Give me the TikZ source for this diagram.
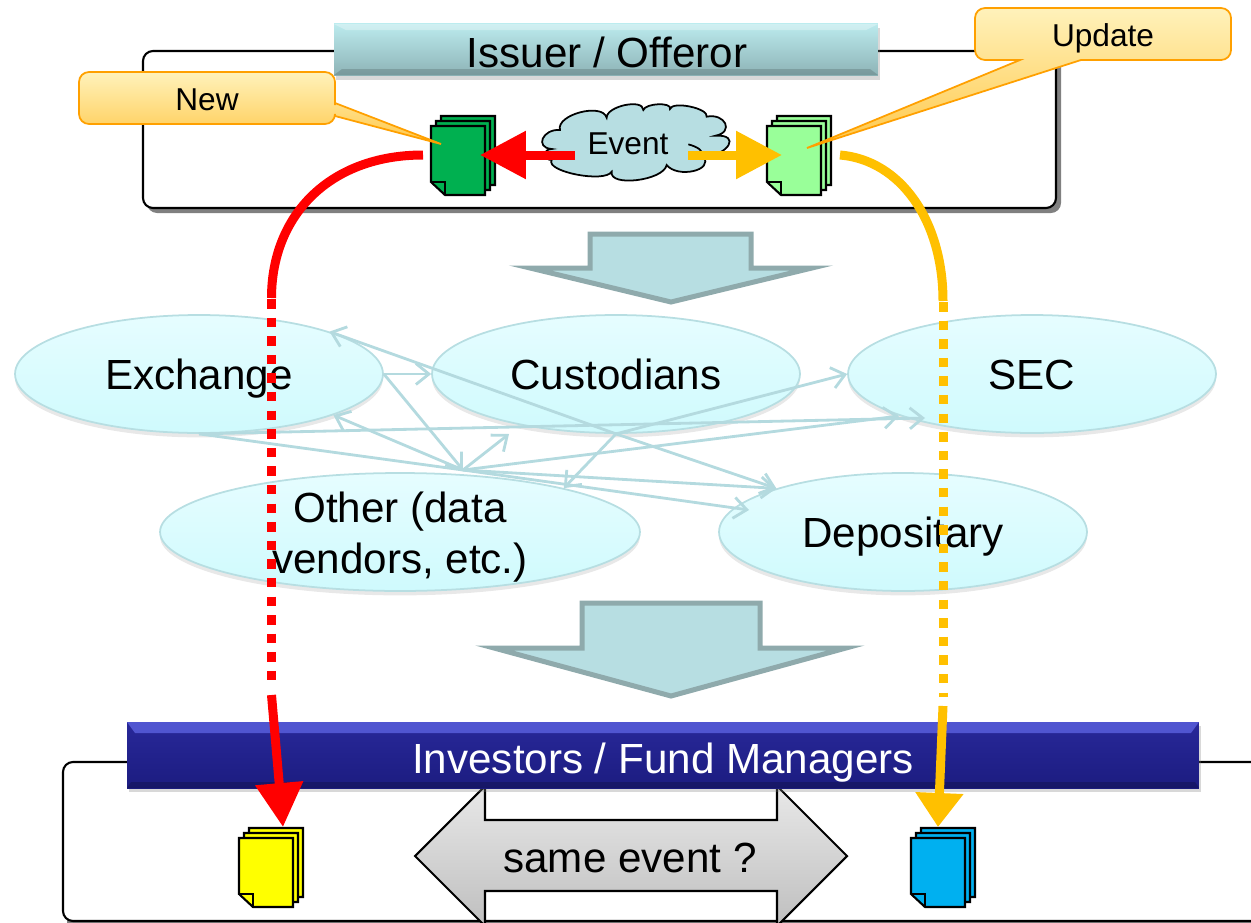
\documentclass[tikz,border=0pt]{standalone}
\usepackage{fontspec}
\setmainfont{Liberation Sans}
\usetikzlibrary{arrows.meta,shapes.geometric,shadows}

\definecolor{cloudfill}{HTML}{B7DEE2}
\definecolor{arrowfill}{HTML}{B7DEE2}
\definecolor{arrowedge}{HTML}{8FAAAC}
\definecolor{linkline}{HTML}{B4DADF}
\definecolor{titletop}{HTML}{BCEBEE}
\definecolor{titlebot}{HTML}{8DB3B6}
\definecolor{ovaltop}{HTML}{E6FDFF}
\definecolor{ovalbot}{HTML}{CFFAFD}
\definecolor{talktop}{HTML}{FFF2BB}
\definecolor{talkbot}{HTML}{FFC84A}
\definecolor{talkedge}{HTML}{FFA000}
\definecolor{bartop}{HTML}{282899}
\definecolor{barbot}{HTML}{1C1C80}
\definecolor{barstrip}{HTML}{5055D0}
\definecolor{greytop}{HTML}{E8E8E8}
\definecolor{greybot}{HTML}{BFBFBF}
\definecolor{redline}{HTML}{FF0000}
\definecolor{orangeline}{HTML}{FFC000}
\definecolor{docgreen}{HTML}{00B050}
\definecolor{docmint}{HTML}{99FF99}
\definecolor{docyellow}{HTML}{FFFF00}
\definecolor{docblue}{HTML}{00B0F0}

\tikzset{
  bigfont/.style={font=\fontsize{24}{29.5}\selectfont},
  bigline/.style={bigfont, inner sep=0pt, text height=17.2pt, text depth=0pt},
  smallline/.style={font=\fontsize{18}{22}\selectfont, inner sep=0pt, text height=13pt, text depth=0pt},
  panelbox/.style={draw=black, line width=1.2pt, fill=white, rounded corners=0.2cm},
  titlebar/.style={rectangle, minimum width=10.88cm, minimum height=1.04cm, top color=titletop, bottom color=titlebot,
    drop shadow={opacity=0.3, shadow xshift=1pt, shadow yshift=-2.5pt}},
  oval/.style={ellipse, draw=arrowfill, line width=1pt, top color=ovaltop, bottom color=ovalbot, minimum width=7.36cm, minimum height=2.36cm,
    drop shadow={opacity=0.18, shadow xshift=0pt, shadow yshift=-2.5pt}},
  talkbox/.style={draw=talkedge, line width=1pt, top color=talktop, bottom color=talkbot},
  bigarrow/.style={draw=arrowedge, fill=arrowfill, line width=0.1cm},
  link/.style={draw=linkline, line width=1.6pt, -{Straight Barb[length=0.26cm,width=0.42cm]}},
  linkplain/.style={draw=linkline, line width=1.6pt},
  flow/.style={line width=0.18cm},
  flowhead/.style={line width=0.18cm, -{Triangle[length=#1,width=0.92cm]}},
  flowdash/.style={line width=0.18cm, dash pattern=on 0.19cm off 0.182cm},
}

\newcommand{\docstack}[4]{
  \coordinate (#1) at (#2+27,#3+35);
  \foreach \off in {10,5,0}{
    \begin{scope}[shift={(#2+\off,#3-\off)}]
      \draw[line width=1.2pt, fill=#4, line join=miter] (0,0) -- (54,0) -- (54,69) -- (14,69) -- (0,56) -- cycle;
      \draw[line width=1.2pt] (0,56) -- (14,56) -- (14,69);
    \end{scope}
  }
}

\begin{document}
\begin{tikzpicture}[x=0.02cm, y=-0.02cm]
  \useasboundingbox (0,0) rectangle (1251,923);

  % top panel
  \fill[gray] (147,55) [rounded corners=0.2cm] rectangle (1061,213);
  \draw[panelbox] (143,51) rectangle (1056,208);
  \node[titlebar] (issuer) at (606,49.5) {};
  \fill[white, opacity=0.3] (334,24) -- (878,24) -- (866,30) -- (346,30) -- cycle;
  \fill[black, opacity=0.15] (334,75) -- (878,75) -- (870,69) -- (342,69) -- cycle;
  \node[bigline] (issuerlabel) at (607,52) {Issuer / Offeror};

  \docstack{docnew}{431}{126}{docgreen}
  \docstack{docupdate}{767}{126}{docmint}

  \begin{scope}[shift={(530,95)}, xscale=1/3, yscale=1/3]
    \draw[line width=1pt, fill=cloudfill] (90,105) .. controls (77,59) and (217,22) .. (230,68)
      .. controls (230,33) and (340,10) .. (340,45)
      .. controls (347,24) and (427,21) .. (420,42)
      .. controls (427,17) and (537,40) .. (530,65)
      .. controls (586,54) and (613,111) .. (557,122)
      .. controls (633,118) and (596,181) .. (520,185)
      .. controls (553,226) and (443,251) .. (410,210)
      .. controls (401,257) and (236,277) .. (245,230)
      .. controls (225,265) and (45,230) .. (65,195)
      .. controls (38,195) and (38,162) .. (65,162)
      .. controls (13,158) and (38,101) .. (90,105) -- cycle;
    \draw[line width=1pt] (475,148) .. controls (500,155) and (520,165) .. (520,185);
  \end{scope}
  \node[smallline] (event) at (628,143) {Event};

  % callouts
  \draw[talkbox, rounded corners=0.2cm] (207,72) -- (335,72) -- (335,95) [sharp corners] -- (335,103) -- (441,144) -- (335,116) [rounded corners=0.2cm] -- (335,124) -- (79,124) -- (79,72) -- cycle;
  \node[smallline] (newlabel) at (207,99) {New};
  \draw[talkbox, rounded corners=0.2cm] (1103,8) -- (975,8) -- (975,60) -- (1010,60) [sharp corners] -- (1020,60) -- (807,148) -- (1081,60) [rounded corners=0.2cm] -- (1231,60) -- (1231,8) -- cycle;
  \node[smallline] (updatelabel) at (1103,35) {Update};

  % arrows out of the event
  \coordinate (redstart) at (575,155);
  \coordinate (redend) at (480,155);
  \coordinate (orangestart) at (688,155);
  \coordinate (orangeend) at (782,155);
  \draw[flowhead=0.92cm, redline] (redstart) to (redend);
  \draw[flowhead=0.92cm, orangeline] (orangestart) to (orangeend);

  % big arrows
  \draw[bigarrow] (590,234) -- (751,234) -- (751,268) -- (812,268) -- (671,302) -- (530,268) -- (590,268) -- cycle;
  \draw[bigarrow] (582,603) -- (760,603) -- (760,648) -- (846,648) -- (671,696) -- (494,648) -- (582,648) -- cycle;

  % market ovals
  \node[oval, bigline] (exchange) at (199,374) {Exchange};
  \node[oval, bigline] (custodians) at (616,374) {Custodians};
  \node[oval, bigline] (sec) at (1032,374) {SEC};
  \node[oval, minimum width=9.6cm] (other) at (400,532) {};
  \node[bigfont, align=center, inner sep=0pt] (otherlabel) at (400,537) {Other (data\\vendors, etc.)};
  \node[oval, bigline] (depositary) at (903,532) {Depositary};

  \coordinate (otherhub) at (463,470);
  \coordinate (custlow) at (509,434);
  \coordinate (sechigh) at (899,416);
  \coordinate (seclow) at (925,418);
  \coordinate (deplow) at (749,510);

  \draw[link] (exchange.east) to (custodians.west);
  \draw[link] (exchange.east) to (otherhub);
  \draw[linkplain] (exchange.south) to (otherhub);
  \draw[link] (exchange.south) to (seclow);
  \draw[link] (otherhub) to (exchange.-17);
  \draw[link] (otherhub) to (custlow);
  \draw[link] (otherhub) to (sechigh);
  \draw[link] (otherhub) to (depositary.161);
  \draw[link] (otherhub) to (deplow);
  \draw[link] (custodians.south) to (exchange.18);
  \draw[link] (custodians.south) to (sec.west);
  \draw[link] (custodians.south) to (other.15);
  \draw[link] (custodians.south) to (depositary.161);

  % bottom panel
  \fill[gray] (67,766) rectangle (1300,926);
  \draw[panelbox] (63,762) rectangle (1300,921);
  \draw[line width=1.2pt, top color=greytop, bottom color=greybot] (415,856) -- (485,786) -- (485,820) -- (777,820) -- (777,786) -- (847,856) -- (777,926) -- (777,891) -- (485,891) -- (485,926) -- cycle;
  \node[bigfont, inner sep=0pt] (same) at (630,858) {same event ?};
  \node[titlebar, minimum width=21.44cm, minimum height=1.32cm, top color=bartop, bottom color=barbot] (investors) at (663,755) {};
  \fill[barstrip] (127,722) -- (1199,722) -- (1191,733) -- (135,733) -- cycle;
  \fill[black, opacity=0.2] (127,788) -- (1199,788) -- (1195,782) -- (131,782) -- cycle;
  \node[bigline, text=white] (investorlabel) at (663,758) {Investors / Fund Managers};

  \docstack{docleft}{239}{838}{docyellow}
  \docstack{docright}{911}{838}{docblue}

  % long flows
  \coordinate (redcurve) at (423,155);
  \coordinate (redbend) at (271.5,298);
  \coordinate (reddash) at (271.5,299);
  \coordinate (reddashend) at (271.5,683);
  \coordinate (redlow) at (271.5,695);
  \coordinate (redtip) at (283,827);
  \draw[flow, redline] (redcurve) .. controls (330,155) and (271.5,215) .. (redbend);
  \draw[flowdash, redline] (reddash) to (reddashend);
  \draw[flowhead=0.88cm, redline] (redlow) to (redtip);

  \coordinate (orangecurve) at (840,155);
  \coordinate (orangebend) at (943,301);
  \coordinate (orangedash) at (943,302);
  \coordinate (orangedashend) at (943,697);
  \coordinate (orangelow) at (943,706);
  \coordinate (orangetip) at (938,827);
  \draw[flow, orangeline] (orangecurve) .. controls (900,160) and (943,220) .. (orangebend);
  \draw[flowdash, orangeline] (orangedash) to (orangedashend);
  \draw[flowhead=0.68cm, orangeline] (orangelow) to (orangetip);
\end{tikzpicture}
\end{document}
